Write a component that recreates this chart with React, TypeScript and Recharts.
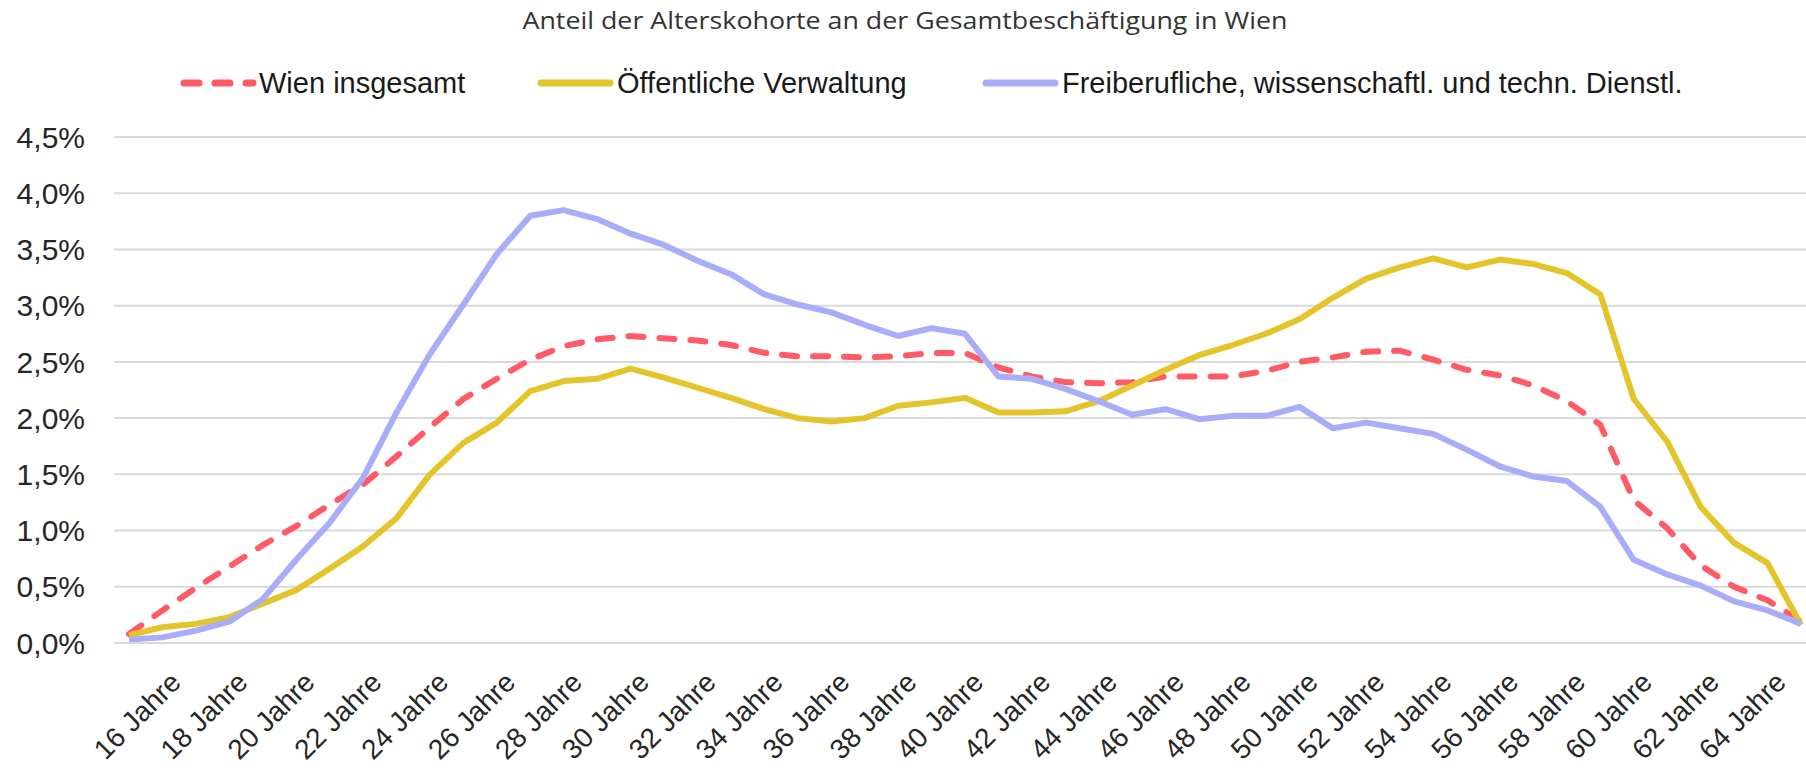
import { LineChart, Line, XAxis, YAxis, CartesianGrid } from "recharts";

// Alterskohorten 15 - 65 Jahre (jede zweite wird beschriftet)
const AGES = [
  "15 Jahre", "16 Jahre", "17 Jahre", "18 Jahre", "19 Jahre", "20 Jahre", "21 Jahre", "22 Jahre", "23 Jahre", "24 Jahre",
  "25 Jahre", "26 Jahre", "27 Jahre", "28 Jahre", "29 Jahre", "30 Jahre", "31 Jahre", "32 Jahre", "33 Jahre", "34 Jahre",
  "35 Jahre", "36 Jahre", "37 Jahre", "38 Jahre", "39 Jahre", "40 Jahre", "41 Jahre", "42 Jahre", "43 Jahre", "44 Jahre",
  "45 Jahre", "46 Jahre", "47 Jahre", "48 Jahre", "49 Jahre", "50 Jahre", "51 Jahre", "52 Jahre", "53 Jahre", "54 Jahre",
  "55 Jahre", "56 Jahre", "57 Jahre", "58 Jahre", "59 Jahre", "60 Jahre", "61 Jahre", "62 Jahre", "63 Jahre", "64 Jahre",
  "65 Jahre",
];

const LABELED = [
  "16 Jahre", "18 Jahre", "20 Jahre", "22 Jahre", "24 Jahre", "26 Jahre", "28 Jahre", "30 Jahre", "32 Jahre", "34 Jahre",
  "36 Jahre", "38 Jahre", "40 Jahre", "42 Jahre", "44 Jahre", "46 Jahre", "48 Jahre", "50 Jahre", "52 Jahre", "54 Jahre",
  "56 Jahre", "58 Jahre", "60 Jahre", "62 Jahre", "64 Jahre",
];

// Anteil in %
const WIEN = [
  0.08, 0.29, 0.49, 0.68, 0.87, 1.04, 1.23, 1.41, 1.66, 1.92, 2.17, 2.35, 2.52, 2.64, 2.70, 2.73,
  2.71, 2.69, 2.65, 2.58, 2.55, 2.55, 2.54, 2.55, 2.58, 2.58, 2.45, 2.37, 2.32, 2.31, 2.32, 2.37, 2.37,
  2.37, 2.42, 2.50, 2.54, 2.59, 2.60, 2.52, 2.43, 2.38, 2.29, 2.15, 1.94, 1.27, 1.02, 0.69, 0.50, 0.38, 0.19,
];

const OEFF = [
  0.07, 0.14, 0.17, 0.23, 0.35, 0.47, 0.66, 0.86, 1.11, 1.50, 1.78, 1.96, 2.24, 2.33, 2.35, 2.44,
  2.36, 2.27, 2.18, 2.08, 2.00, 1.97, 2.00, 2.11, 2.14, 2.18, 2.05, 2.05, 2.06, 2.15, 2.29, 2.43, 2.56,
  2.65, 2.75, 2.88, 3.07, 3.24, 3.34, 3.42, 3.34, 3.41, 3.37, 3.29, 3.10, 2.17, 1.79, 1.21, 0.89, 0.71, 0.16,
];

const FREI = [
  0.03, 0.05, 0.11, 0.19, 0.39, 0.74, 1.07, 1.47, 2.05, 2.57, 3.01, 3.46, 3.80, 3.85, 3.77, 3.64,
  3.54, 3.40, 3.28, 3.10, 3.01, 2.94, 2.83, 2.73, 2.80, 2.75, 2.37, 2.35, 2.26, 2.15, 2.03, 2.08, 1.99,
  2.02, 2.02, 2.10, 1.91, 1.96, 1.91, 1.86, 1.72, 1.57, 1.48, 1.44, 1.21, 0.74, 0.61, 0.51, 0.37, 0.29, 0.17,
];

const Y_TICKS = [0, 0.5, 1, 1.5, 2, 2.5, 3, 3.5, 4, 4.5];

const RED = "#ff5a66";
const YELLOW = "#e3c52b";
const BLUE = "#a9adf7";
const FONT = "'Liberation Sans', Arial, sans-serif";

const rows = AGES.map((age, i) => ({ age, wien: WIEN[i], oeff: OEFF[i], frei: FREI[i] }));

const fmtPct = (v: number) => v.toFixed(1).replace(".", ",") + "%";

function AgeTick(props: any) {
  const { x, y, payload } = props;
  if (!LABELED.includes(payload.value)) return null;
  return (
    <g transform={`translate(${x + 6},${y})`}>
      <text
        x={0}
        y={0}
        dy="0.71em"
        textAnchor="end"
        transform="rotate(-45)"
        fill="#262626"
        fontSize={28}
        fontFamily={FONT}
      >
        {payload.value}
      </text>
    </g>
  );
}

export default function App() {
  const W = 1806;
  const H = 768;
  return (
    <div style={{ position: "absolute", left: 0, top: 0, width: W, height: H, overflow: "hidden", background: "#fff" }}>
      <LineChart width={W} height={H} data={rows} margin={{ top: 137, right: 0, bottom: 0, left: 0 }}>
        <CartesianGrid vertical={false} stroke="#d9d9d9" strokeWidth={2} />
        <XAxis
          dataKey="age"
          interval={0}
          tick={<AgeTick />}
          tickLine={false}
          axisLine={{ stroke: "#d9d9d9", strokeWidth: 2 }}
          height={125}
          tickSize={0}
          tickMargin={27}
          padding={{ left: 15, right: 5 }}
        />
        <YAxis
          domain={[0, 4.5]}
          ticks={Y_TICKS}
          tickFormatter={fmtPct}
          width={114}
          axisLine={false}
          tickLine={false}
          tickSize={0}
          tickMargin={29}
          tick={{ fill: "#262626", fontSize: 30, fontFamily: FONT }}
        />
        <Line
          dataKey="wien"
          type="linear"
          stroke={RED}
          strokeWidth={6}
          strokeDasharray="15 16"
          strokeLinecap="round"
          dot={false}
          isAnimationActive={false}
        />
        <Line dataKey="oeff" type="linear" stroke={YELLOW} strokeWidth={6} strokeLinejoin="round" dot={false} isAnimationActive={false} />
        <Line dataKey="frei" type="linear" stroke={BLUE} strokeWidth={6} strokeLinejoin="round" dot={false} isAnimationActive={false} />
      </LineChart>

      <svg width={W} height={110} style={{ position: "absolute", left: 0, top: 0, pointerEvents: "none" }}>
        <text
          x={905}
          y={29}
          textAnchor="middle"
          fontSize={24}
          fontFamily="'Open Sans', sans-serif"
          fill="#333"
          textLength={765}
          lengthAdjust="spacingAndGlyphs"
        >
          Anteil der Alterskohorte an der Gesamtbeschäftigung in Wien
        </text>

        <line x1={184} y1={83} x2={253} y2={83} stroke={RED} strokeWidth={7} strokeDasharray="15 16" strokeLinecap="round" />
        <text x={259} y={93} fontSize={29} fontFamily={FONT} fill="#1a1a1a">Wien insgesamt</text>

        <line x1={541} y1={83} x2={610} y2={83} stroke={YELLOW} strokeWidth={7} strokeLinecap="round" />
        <text x={617} y={93} fontSize={29} fontFamily={FONT} fill="#1a1a1a">Öffentliche Verwaltung</text>

        <line x1={986} y1={83} x2={1055} y2={83} stroke={BLUE} strokeWidth={7} strokeLinecap="round" />
        <text x={1062} y={93} fontSize={29} fontFamily={FONT} fill="#1a1a1a">Freiberufliche, wissenschaftl. und techn. Dienstl.</text>
      </svg>
    </div>
  );
}
